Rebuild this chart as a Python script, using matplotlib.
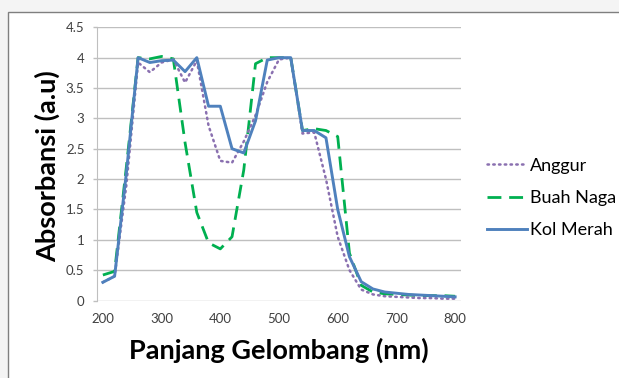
import matplotlib
matplotlib.use("Agg")
import matplotlib.pyplot as plt
from matplotlib.patches import Rectangle

wavelength = [200, 220, 240, 260, 280, 300, 320, 340, 360, 380, 400, 420, 440, 460, 480,
              500, 520, 540, 560, 580, 600, 620, 640, 660, 680, 700, 720, 740, 760, 780, 800]
anggur = [0.30, 0.40, 1.90, 3.92, 3.76, 3.92, 3.97, 3.59, 3.95, 2.88, 2.30, 2.27, 2.62, 3.05, 3.60,
          3.97, 4.00, 2.75, 2.77, 2.00, 1.05, 0.50, 0.18, 0.10, 0.07, 0.06, 0.05, 0.04, 0.04, 0.03, 0.03]
buah_naga = [0.42, 0.48, 2.20, 4.00, 3.98, 4.02, 3.98, 2.60, 1.45, 0.95, 0.85, 1.05, 2.15, 3.90, 4.00,
             4.00, 4.00, 2.80, 2.83, 2.80, 2.70, 0.78, 0.25, 0.14, 0.11, 0.10, 0.09, 0.08, 0.08, 0.08, 0.07]
kol_merah = [0.30, 0.40, 2.10, 4.00, 3.92, 3.95, 3.96, 3.77, 4.00, 3.20, 3.20, 2.50, 2.43, 2.96, 3.96,
             4.00, 4.00, 2.80, 2.80, 2.68, 1.50, 0.72, 0.31, 0.19, 0.14, 0.12, 0.10, 0.09, 0.08, 0.07, 0.06]
series_names = ["Anggur", "Buah Naga", "Kol Merah"]
x_ticks = [200, 300, 400, 500, 600, 700, 800]
y_ticks = [0, 0.5, 1, 1.5, 2, 2.5, 3, 3.5, 4, 4.5]
y_tick_labels = ["0", "0.5", "1", "1.5", "2", "2.5", "3", "3.5", "4", "4.5"]

plt.rcParams['font.family'] = ['Lato', 'DejaVu Sans']

W, H = 619, 378
fig = plt.figure(figsize=(W / 100, H / 100), dpi=100, facecolor='#f4f4f4')
fig.patches.append(Rectangle((8 / W, -0.1), 1.2, (1 - 12 / H) + 0.1, transform=fig.transFigure,
                             facecolor='white', edgecolor='#7f7f7f', linewidth=1, zorder=-10))

ax = fig.add_axes([97 / W, 1 - 300.5 / H, (461 - 97) / W, (300.5 - 27.3) / H])
ax.set_facecolor('none')

ax.plot(wavelength, anggur, color='#8a70b0', lw=1.8, linestyle=(0, (0.6, 1.7)),
        dash_capstyle='round', label=series_names[0], zorder=3)
ax.plot(wavelength, buah_naga, color='#00B050', lw=2.0, linestyle=(0, (5, 2.8)),
        label=series_names[1], zorder=2)
ax.plot(wavelength, kol_merah, color='#4F81BD', lw=2.1, label=series_names[2], zorder=4)

ax.set_xlim(190, 810)
ax.set_ylim(0, 4.5)
ax.set_xticks(x_ticks)
ax.set_yticks(y_ticks)
ax.set_yticklabels(y_tick_labels)
ax.grid(axis='y', color='#bfbfbf', lw=1)
ax.set_axisbelow(True)
for s in ['top', 'right', 'bottom']:
    ax.spines[s].set_visible(False)
ax.spines['left'].set_color('#bfbfbf')
ax.tick_params(axis='y', length=3, width=1, color='#bfbfbf', pad=6, labelsize=9.5, labelcolor='#404040')
ax.tick_params(axis='x', length=0, pad=9, labelsize=9.5, labelcolor='#404040')

fig.text(47 / W, 1 - 166 / H, "Absorbansi (a.u)", rotation=90, ha='center', va='center',
         fontsize=19.5, fontweight='bold', color='black')
fig.text(279 / W, 1 - 350 / H, "Panjang Gelombang (nm)", ha='center', va='center',
         fontsize=19.5, fontweight='bold', color='black')

leg = fig.legend(loc='center left', bbox_to_anchor=(487 / W, 1 - 198 / H), frameon=False,
                 fontsize=13, handlelength=2.2, handletextpad=0.2, labelspacing=0.9,
                 borderpad=0, borderaxespad=0)

fig.savefig("out.png", dpi=100, facecolor=fig.get_facecolor())
